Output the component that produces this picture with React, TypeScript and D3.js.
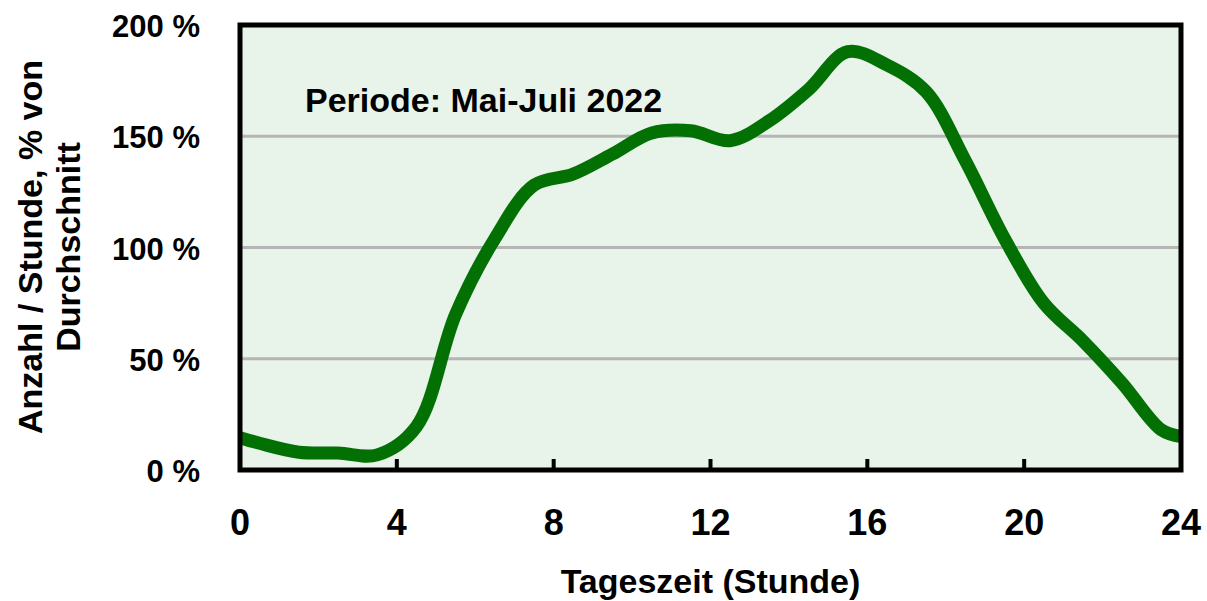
import { useEffect, useRef } from "react";
import * as d3 from "d3";

// hours (half-hour samples, plus both ends of the day)
const hours = [0, 0.5, 1.5, 2.5, 3.5, 4.5, 5.5, 6.5, 7.5, 8.5, 9.5, 10.5, 11.5, 12.5, 13.5, 14.5, 15.5, 16.5, 17.5, 18.5, 19.5, 20.5, 21.5, 22.5, 23.5, 24];
// Anzahl / Stunde in % vom Durchschnitt
const values = [14.5, 12, 8, 7.6, 6.8, 19.5, 70, 104, 128, 133, 142, 151.5, 152.5, 148, 157, 171, 188, 182, 170, 139, 104, 75, 58, 39, 18, 15];
const xTicks = [0, 4, 8, 12, 16, 20, 24];
const yTicks = [0, 50, 100, 150, 200];

const W = 1207;
const H = 601;
const left = 240, right = 1181, top = 25, bottom = 470;
const font = "'Liberation Sans', Arial, Helvetica, sans-serif";

function HourChart() {
  const ref = useRef<SVGSVGElement>(null);

  useEffect(() => {
    const svg = d3.select(ref.current);
    svg.selectAll("*").remove();

    const x = d3.scaleLinear().domain([0, 24]).range([left, right]);
    const y = d3.scaleLinear().domain([0, 200]).range([bottom, top]);

    // plot background
    svg.append("rect")
      .attr("x", left).attr("y", top)
      .attr("width", right - left).attr("height", bottom - top)
      .attr("fill", "#e8f3ea");

    // grid
    svg.append("g")
      .selectAll("line")
      .data(yTicks.filter(d => d > 0 && d < 200))
      .join("line")
      .attr("x1", left).attr("x2", right)
      .attr("y1", d => y(d)).attr("y2", d => y(d))
      .attr("stroke", "#b5b5b5")
      .attr("stroke-width", 3);

    // curve
    const line = d3.line<number>()
      .x((_, i) => x(hours[i]))
      .y(d => y(d))
      .curve(d3.curveCatmullRom.alpha(0.5));

    svg.append("path")
      .datum(values)
      .attr("d", line)
      .attr("fill", "none")
      .attr("stroke", "#037003")
      .attr("stroke-width", 13)
      .attr("stroke-linejoin", "round");

    // frame
    svg.append("rect")
      .attr("x", left).attr("y", top)
      .attr("width", right - left).attr("height", bottom - top)
      .attr("fill", "none")
      .attr("stroke", "#000")
      .attr("stroke-width", 5);

    // inner ticks
    svg.append("g")
      .selectAll("line")
      .data(xTicks.slice(1, -1))
      .join("line")
      .attr("x1", d => x(d)).attr("x2", d => x(d))
      .attr("y1", bottom).attr("y2", bottom - 11)
      .attr("stroke", "#000")
      .attr("stroke-width", 4);

    // x tick labels
    svg.append("g")
      .selectAll("text")
      .data(xTicks)
      .join("text")
      .attr("x", d => x(d))
      .attr("y", 535)
      .attr("text-anchor", "middle")
      .attr("font-family", font)
      .attr("font-weight", "bold")
      .attr("font-size", 36)
      .text(d => d);

    // y tick labels
    svg.append("g")
      .selectAll("text")
      .data(yTicks)
      .join("text")
      .attr("x", 200)
      .attr("y", d => y(d) + 12)
      .attr("text-anchor", "end")
      .attr("font-family", font)
      .attr("font-weight", "bold")
      .attr("font-size", 31)
      .text(d => `${d} %`);

    // axis titles
    svg.append("text")
      .attr("x", (left + right) / 2)
      .attr("y", 593)
      .attr("text-anchor", "middle")
      .attr("font-family", font)
      .attr("font-weight", "bold")
      .attr("font-size", 34)
      .text("Tageszeit (Stunde)");

    const yTitle = svg.append("text")
      .attr("transform", "translate(0,247) rotate(-90)")
      .attr("text-anchor", "middle")
      .attr("font-family", font)
      .attr("font-weight", "bold")
      .attr("font-size", 34);
    yTitle.append("tspan").attr("x", 0).attr("y", 42).text("Anzahl / Stunde, % von");
    yTitle.append("tspan").attr("x", 0).attr("y", 80).text("Durchschnitt");

    // annotation
    svg.append("text")
      .attr("x", 305)
      .attr("y", 112)
      .attr("font-family", font)
      .attr("font-weight", "bold")
      .attr("font-size", 34)
      .text("Periode: Mai-Juli 2022");
  }, []);

  return <svg ref={ref} width={W} height={H} style={{ position: "absolute", left: 0, top: 0, background: "#fff" }} />;
}

export default function App() {
  return <HourChart />;
}
